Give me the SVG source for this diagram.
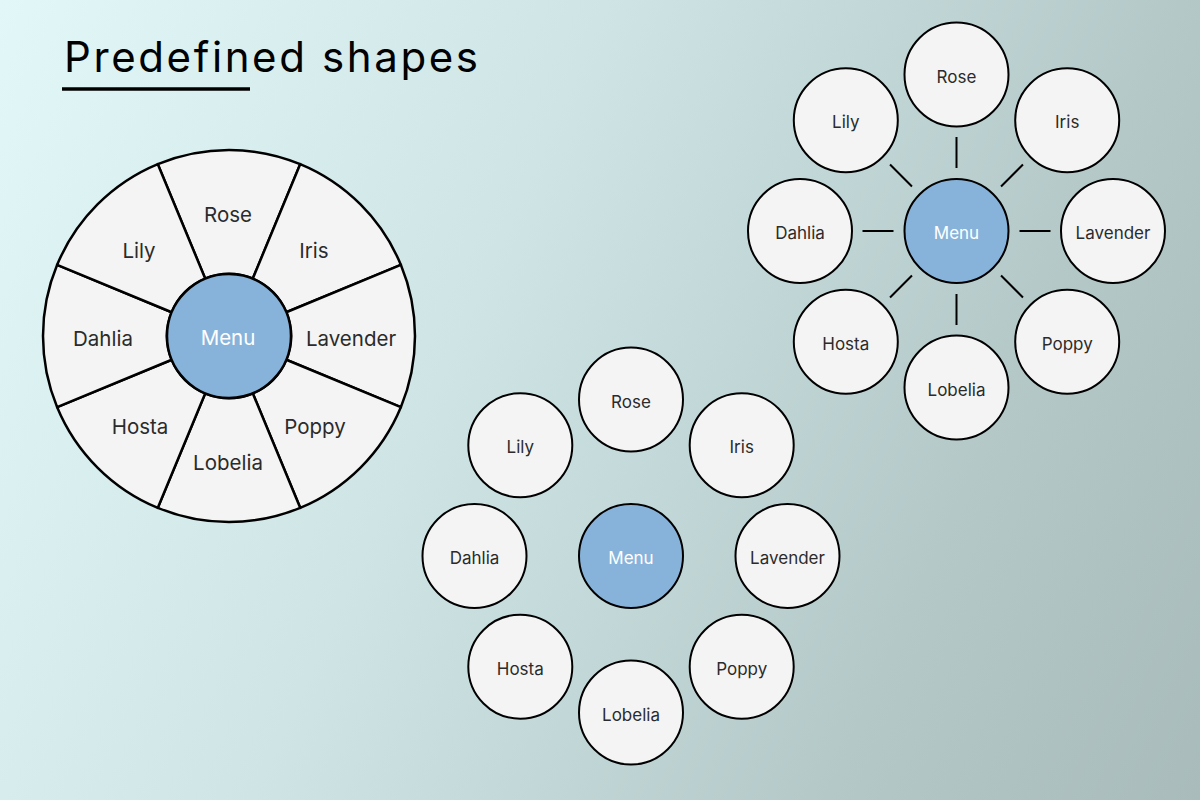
<svg xmlns="http://www.w3.org/2000/svg" width="1200" height="800" viewBox="0 0 1200 800">
  <defs>
    <linearGradient id="bg" gradientUnits="userSpaceOnUse" x1="0" y1="0" x2="1300" y2="578">
      <stop offset="0" stop-color="#e2f7f8"/>
      <stop offset="0.23" stop-color="#d6eced"/>
      <stop offset="0.39" stop-color="#cfe5e5"/>
      <stop offset="0.76" stop-color="#b4c8c8"/>
      <stop offset="1" stop-color="#a9bbbb"/>
    </linearGradient>
  </defs>
  <style>
    .sat { fill: #f4f4f4; stroke: #000; stroke-width: 2; }
    .menu { fill: #87b3da; stroke: #000; stroke-width: 2; }
    .seg { fill: #f4f4f4; stroke: #000; stroke-width: 2.5; stroke-linejoin: round; }
    .wmenu { fill: #87b3da; stroke: #000; stroke-width: 2.5; }
    .lbl { font-family: Inter, "Noto Sans", "Liberation Sans", sans-serif; font-size: 17px; fill: #2b2b2b; text-anchor: middle; }
    .wlbl { font-family: Inter, "Noto Sans", "Liberation Sans", sans-serif; font-size: 20.5px; fill: #2b2b2b; text-anchor: middle; }
    .mlbl { fill: #ffffff; }
    .conn line { stroke: #000; stroke-width: 2; }
  </style>

  <rect x="0" y="0" width="1200" height="800" fill="url(#bg)"/>

  <g id="title">
    <text x="64" y="72" font-family="Inter, 'Noto Sans', 'Liberation Sans', sans-serif" font-size="42" fill="#000" textLength="414" lengthAdjust="spacing">Predefined shapes</text>
    <line x1="62" y1="89" x2="250" y2="89" stroke="#000" stroke-width="3.5"/>
  </g>

  <!-- Wheel menu -->
  <g id="wheel">
    <g id="wheel-rose">
      <path class="seg" d="M157.82 164.16 A186 186 0 0 1 300.18 164.16 L252.73 278.72 A62 62 0 0 0 205.27 278.72 Z"/>
      <text class="wlbl" x="228" y="221.5">Rose</text>
    </g>
    <g id="wheel-iris">
      <path class="seg" d="M300.18 164.16 A186 186 0 0 1 400.84 264.82 L286.28 312.27 A62 62 0 0 0 252.73 278.72 Z"/>
      <text class="wlbl" x="314" y="257.5">Iris</text>
    </g>
    <g id="wheel-lavender">
      <path class="seg" d="M400.84 264.82 A186 186 0 0 1 400.84 407.18 L286.28 359.73 A62 62 0 0 0 286.28 312.27 Z"/>
      <text class="wlbl" x="351" y="345.5">Lavender</text>
    </g>
    <g id="wheel-poppy">
      <path class="seg" d="M400.84 407.18 A186 186 0 0 1 300.18 507.84 L252.73 393.28 A62 62 0 0 0 286.28 359.73 Z"/>
      <text class="wlbl" x="315" y="433.5">Poppy</text>
    </g>
    <g id="wheel-lobelia">
      <path class="seg" d="M300.18 507.84 A186 186 0 0 1 157.82 507.84 L205.27 393.28 A62 62 0 0 0 252.73 393.28 Z"/>
      <text class="wlbl" x="228" y="469.5">Lobelia</text>
    </g>
    <g id="wheel-hosta">
      <path class="seg" d="M157.82 507.84 A186 186 0 0 1 57.16 407.18 L171.72 359.73 A62 62 0 0 0 205.27 393.28 Z"/>
      <text class="wlbl" x="140" y="433.5">Hosta</text>
    </g>
    <g id="wheel-dahlia">
      <path class="seg" d="M57.16 407.18 A186 186 0 0 1 57.16 264.82 L171.72 312.27 A62 62 0 0 0 171.72 359.73 Z"/>
      <text class="wlbl" x="103" y="345.5">Dahlia</text>
    </g>
    <g id="wheel-lily">
      <path class="seg" d="M57.16 264.82 A186 186 0 0 1 157.82 164.16 L205.27 278.72 A62 62 0 0 0 171.72 312.27 Z"/>
      <text class="wlbl" x="139" y="257.5">Lily</text>
    </g>
    <g id="wheel-menu">
      <circle class="wmenu" cx="229" cy="336" r="62"/>
      <text class="wlbl mlbl" x="228" y="345">Menu</text>
    </g>
  </g>

  <!-- Connectors of the top-right radial menu -->
  <g id="connectors" class="conn">
    <line x1="956.5" y1="168" x2="956.5" y2="137"/>
    <line x1="1001.05" y1="186.45" x2="1022.97" y2="164.53"/>
    <line x1="1019.5" y1="231" x2="1050.5" y2="231"/>
    <line x1="1001.05" y1="275.55" x2="1022.97" y2="297.47"/>
    <line x1="956.5" y1="294" x2="956.5" y2="325"/>
    <line x1="911.95" y1="275.55" x2="890.03" y2="297.47"/>
    <line x1="893.5" y1="231" x2="862.5" y2="231"/>
    <line x1="911.95" y1="186.45" x2="890.03" y2="164.53"/>
  </g>

  <!-- Top-right radial menu -->
  <g id="tr-menu"><circle class="menu" cx="956.5" cy="231" r="52"/><text class="lbl mlbl" x="956.5" y="239">Menu</text></g>
  <g id="tr-rose"><circle class="sat" cx="956.5" cy="74.5" r="52"/><text class="lbl" x="956.5" y="82.5">Rose</text></g>
  <g id="tr-iris"><circle class="sat" cx="1067.2" cy="120.3" r="52"/><text class="lbl" x="1067.2" y="128.3">Iris</text></g>
  <g id="tr-lavender"><circle class="sat" cx="1113" cy="231" r="52"/><text class="lbl" x="1113" y="239">Lavender</text></g>
  <g id="tr-poppy"><circle class="sat" cx="1067.2" cy="341.7" r="52"/><text class="lbl" x="1067.2" y="349.7">Poppy</text></g>
  <g id="tr-lobelia"><circle class="sat" cx="956.5" cy="387.5" r="52"/><text class="lbl" x="956.5" y="395.5">Lobelia</text></g>
  <g id="tr-hosta"><circle class="sat" cx="845.8" cy="341.7" r="52"/><text class="lbl" x="845.8" y="349.7">Hosta</text></g>
  <g id="tr-dahlia"><circle class="sat" cx="800" cy="231" r="52"/><text class="lbl" x="800" y="239">Dahlia</text></g>
  <g id="tr-lily"><circle class="sat" cx="845.8" cy="120.3" r="52"/><text class="lbl" x="845.8" y="128.3">Lily</text></g>

  <!-- Bottom radial menu (no connectors) -->
  <g id="b-menu"><circle class="menu" cx="631" cy="556" r="52"/><text class="lbl mlbl" x="631" y="564">Menu</text></g>
  <g id="b-rose"><circle class="sat" cx="631" cy="399.5" r="52"/><text class="lbl" x="631" y="407.5">Rose</text></g>
  <g id="b-iris"><circle class="sat" cx="741.7" cy="445.3" r="52"/><text class="lbl" x="741.7" y="453.3">Iris</text></g>
  <g id="b-lavender"><circle class="sat" cx="787.5" cy="556" r="52"/><text class="lbl" x="787.5" y="564">Lavender</text></g>
  <g id="b-poppy"><circle class="sat" cx="741.7" cy="666.7" r="52"/><text class="lbl" x="741.7" y="674.7">Poppy</text></g>
  <g id="b-lobelia"><circle class="sat" cx="631" cy="712.5" r="52"/><text class="lbl" x="631" y="720.5">Lobelia</text></g>
  <g id="b-hosta"><circle class="sat" cx="520.3" cy="666.7" r="52"/><text class="lbl" x="520.3" y="674.7">Hosta</text></g>
  <g id="b-dahlia"><circle class="sat" cx="474.5" cy="556" r="52"/><text class="lbl" x="474.5" y="564">Dahlia</text></g>
  <g id="b-lily"><circle class="sat" cx="520.3" cy="445.3" r="52"/><text class="lbl" x="520.3" y="453.3">Lily</text></g>
</svg>
